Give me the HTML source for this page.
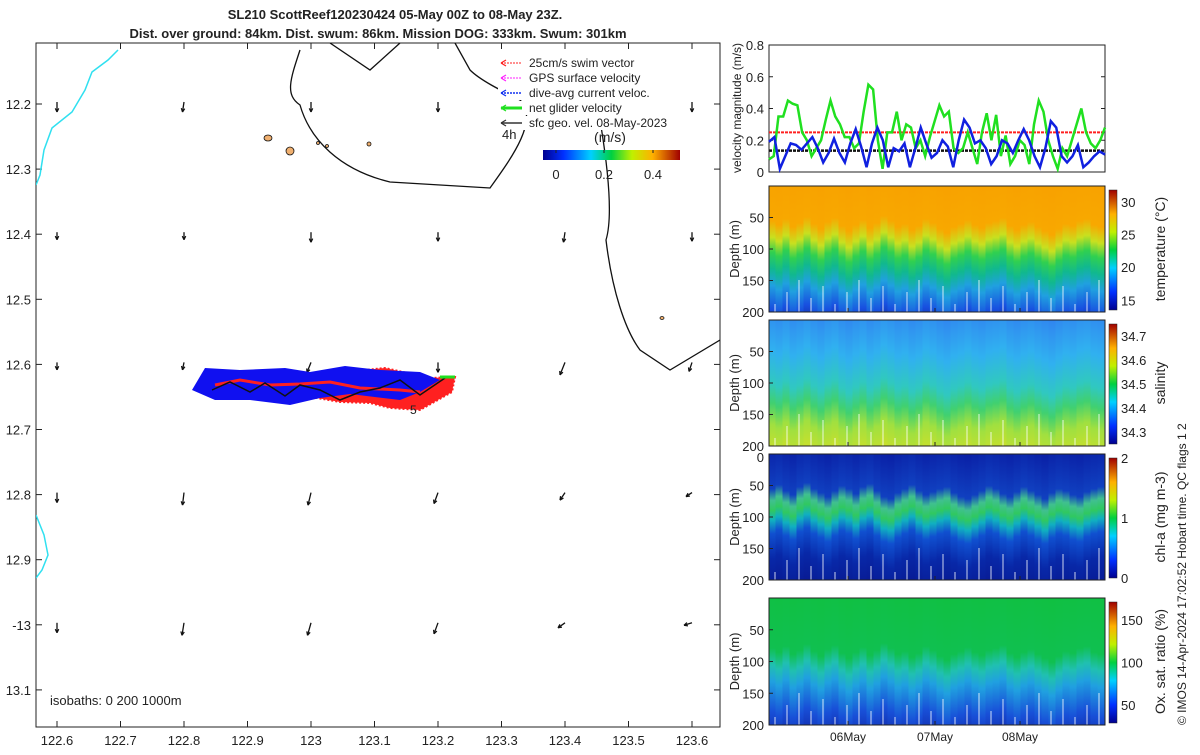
<!DOCTYPE html>
<html><head><meta charset="utf-8">
<style>
body{margin:0;background:#fff;}
svg text{font-family:"Liberation Sans",sans-serif;fill:#222;}
</style></head>
<body>
<svg id="fig" width="1200" height="750" viewBox="0 0 1200 750" xmlns="http://www.w3.org/2000/svg">
<defs>
<linearGradient id="jet" x1="0" y1="1" x2="0" y2="0">
<stop offset="0" stop-color="#00008f"/><stop offset="0.15" stop-color="#0030ff"/><stop offset="0.35" stop-color="#00d0ff"/><stop offset="0.5" stop-color="#00d040"/><stop offset="0.65" stop-color="#c0f000"/><stop offset="0.8" stop-color="#ffb000"/><stop offset="1" stop-color="#a00000"/></linearGradient>
<linearGradient id="jeth" x1="0" y1="0" x2="1" y2="0">
<stop offset="0" stop-color="#00008f"/><stop offset="0.15" stop-color="#0030ff"/><stop offset="0.35" stop-color="#00d0ff"/><stop offset="0.5" stop-color="#00d040"/><stop offset="0.65" stop-color="#c0f000"/><stop offset="0.8" stop-color="#ffb000"/><stop offset="1" stop-color="#a00000"/></linearGradient>
<linearGradient id="gT" x1="0" y1="0" x2="0" y2="1">
<stop offset="0" stop-color="#f8a000"/><stop offset="0.33" stop-color="#f8a800"/><stop offset="0.43" stop-color="#c8e020"/><stop offset="0.52" stop-color="#30d050"/><stop offset="0.62" stop-color="#10b890"/><stop offset="0.72" stop-color="#20a0e0"/><stop offset="0.86" stop-color="#1850e0"/><stop offset="1" stop-color="#102090"/></linearGradient>
<linearGradient id="gS" x1="0" y1="0" x2="0" y2="1">
<stop offset="0" stop-color="#3080f0"/><stop offset="0.3" stop-color="#30b0f0"/><stop offset="0.5" stop-color="#30c8c0"/><stop offset="0.62" stop-color="#40d070"/><stop offset="0.75" stop-color="#a0e040"/><stop offset="1" stop-color="#e0e020"/></linearGradient>
<linearGradient id="gC" x1="0" y1="0" x2="0" y2="1">
<stop offset="0" stop-color="#0818a0"/><stop offset="0.33" stop-color="#1040c0"/><stop offset="0.4" stop-color="#40c090"/><stop offset="0.46" stop-color="#30c860"/><stop offset="0.52" stop-color="#10b0c0"/><stop offset="0.6" stop-color="#1050d0"/><stop offset="0.75" stop-color="#0828a8"/><stop offset="1" stop-color="#08148a"/></linearGradient>
<linearGradient id="gO" x1="0" y1="0" x2="0" y2="1">
<stop offset="0" stop-color="#10c040"/><stop offset="0.42" stop-color="#10c050"/><stop offset="0.52" stop-color="#20c0b0"/><stop offset="0.62" stop-color="#20a0e0"/><stop offset="0.8" stop-color="#1850d8"/><stop offset="1" stop-color="#1020a0"/></linearGradient>
<clipPath id="cpT"><rect x="769" y="186" width="336" height="126"/></clipPath>
<clipPath id="cpS"><rect x="769" y="320" width="336" height="126"/></clipPath>
<clipPath id="cpC"><rect x="769" y="454" width="336" height="126"/></clipPath>
<clipPath id="cpO"><rect x="769" y="598" width="336" height="127"/></clipPath>
<clipPath id="cpMap"><rect x="36" y="43" width="684" height="684"/></clipPath>
</defs>

<text x="395" y="19" text-anchor="middle" font-size="13" font-weight="bold">SL210 ScottReef120230424 05-May 00Z to 08-May 23Z.</text>
<text x="378" y="38" text-anchor="middle" font-size="13" font-weight="bold">Dist. over ground: 84km. Dist. swum: 86km. Mission DOG: 333km. Swum: 301km</text>

<g id="map"></g>
<g id="vel"></g>
<g id="heat"></g>

<text transform="translate(1186,725) rotate(-90)" font-size="12">© IMOS 14-Apr-2024 17:02:52 Hobart time. QC flags 1  2</text>
</svg>
<script>
const NS="http://www.w3.org/2000/svg";
function mk(p,t,a){const e=document.createElementNS(NS,t);for(const k in a)e.setAttribute(k,a[k]);p.appendChild(e);return e;}

// ---------- MAP ----------
const lonTicks=[122.6,122.7,122.8,122.9,123,123.1,123.2,123.3,123.4,123.5,123.6];
const lonLabels=["122.6","122.7","122.8","122.9","123","123.1","123.2","123.3","123.4","123.5","123.6"];
const latTicks=[12.2,12.3,12.4,12.5,12.6,12.7,12.8,12.9,13,13.1];
const latLabels=["12.2","12.3","12.4","12.5","12.6","12.7","12.8","12.9","-13","13.1"];
const arrowLons=[122.6,122.8,123,123.2,123.4,123.6];
const arrowLats=[12.2,12.4,12.6,12.8,13.0];
const arrowU=[[0,-0.003,0,0,0,0],[0,0,0,0,-0.003,0],[0,-0.003,-0.008,0,-0.01,-0.006],[0,-0.003,-0.006,-0.008,-0.01,-0.012],[0,-0.004,-0.007,-0.008,-0.014,-0.016]];
const arrowV=[[-0.02,-0.02,-0.02,-0.02,-0.02,-0.02],[-0.015,-0.015,-0.02,-0.018,-0.02,-0.018],[-0.015,-0.015,-0.02,-0.02,-0.025,-0.018],[-0.02,-0.025,-0.025,-0.022,-0.015,-0.008],[-0.02,-0.025,-0.025,-0.022,-0.01,-0.005]];
const mx=lon=>57+(lon-122.6)*635;
const my=lat=>104+(lat-12.2)*651;
const map=document.getElementById('map');
mk(map,'rect',{x:36,y:43,width:684,height:684,fill:'#fff',stroke:'#222','stroke-width':1});
lonTicks.forEach((v,i)=>{const x=mx(v);
 mk(map,'line',{x1:x,y1:727,x2:x,y2:721,stroke:'#222'});mk(map,'line',{x1:x,y1:43,x2:x,y2:49,stroke:'#222'});
 const t=mk(map,'text',{x:x,y:745,'text-anchor':'middle','font-size':13});t.textContent=lonLabels[i];
 
 });
latTicks.forEach((v,i)=>{const y=my(v);
 mk(map,'line',{x1:36,y1:y,x2:42,y2:y,stroke:'#222'});mk(map,'line',{x1:720,y1:y,x2:714,y2:y,stroke:'#222'});
 const t=mk(map,'text',{x:31,y:y+5,'text-anchor':'end','font-size':13});t.textContent=latLabels[i];
 
 });
const mg=mk(map,'g',{'clip-path':'url(#cpMap)'});
mk(mg,'polyline',{points:'118,50 108,60 92,72 85,90 72,112 52,128 44,150 40,175 36,185',fill:'none',stroke:'#30e0f0','stroke-width':1.5});
mk(mg,'polyline',{points:'36,515 44,535 48,555 42,570 36,578',fill:'none',stroke:'#30e0f0','stroke-width':1.5});
mk(mg,'path',{d:'M300,50 C290,80 285,95 300,105 C310,140 340,170 390,182 L490,188 C510,160 540,120 520,100 C500,90 480,80 470,70 L455,43 M330,43 L370,70 L400,43',fill:'none',stroke:'#111','stroke-width':1.3});
mk(mg,'path',{d:'M600,120 C610,180 612,220 606,240 C612,290 625,330 640,350 L670,370 L720,340',fill:'none',stroke:'#111','stroke-width':1.3});
[[268,138,4,3],[290,151,4,4],[318,143,1.5,1.5],[327,146,1.5,1.5],[369,144,2,2],[662,318,2,1.5]].forEach(r=>mk(mg,'ellipse',{cx:r[0],cy:r[1],rx:r[2],ry:r[3],fill:'#f0b070',stroke:'#111','stroke-width':0.8}));
arrowLats.forEach((la,i)=>arrowLons.forEach((lo,j)=>{
 const x=mx(lo),y=my(la)-2,x2=x+arrowU[i][j]*500,y2=y-arrowV[i][j]*500;
 const l=mk(mg,'line',{x1:x,y1:y,x2:x2,y2:y2,stroke:'#111','stroke-width':1.3});
 
 
 const ang=Math.atan2(y2-y,x2-x);
 mk(mg,'path',{d:`M${x2},${y2} L${x2-4*Math.cos(ang-0.45)},${y2-4*Math.sin(ang-0.45)} M${x2},${y2} L${x2-4*Math.cos(ang+0.45)},${y2-4*Math.sin(ang+0.45)}`,stroke:'#111','stroke-width':1.2,fill:'none'});}));
const tr=mk(mg,'g',{});


mk(tr,'path',{d:'M200,385 L215,372 L245,378 L270,370 L300,378 L345,372 L385,368 L430,378 L455,377 L452,392 L420,410 L390,408 L370,403 L340,402 L300,395 L250,396 L220,392 Z',fill:'#ff2020',stroke:'#ff2020','stroke-width':2,'stroke-dasharray':'2,2'});
mk(tr,'path',{d:'M192,390 L205,368 L240,370 L285,368 L310,372 L345,366 L380,370 L420,372 L440,380 L420,392 L400,400 L350,394 L320,398 L290,405 L250,400 L215,400 Z',fill:'#1010f0'});
mk(tr,'path',{d:'M215,385 L240,380 L270,385 L300,384 L330,382 L360,388 L400,390 L420,392',fill:'none',stroke:'#ff2020','stroke-width':3});
mk(tr,'polyline',{points:'212,390 230,382 250,392 265,383 285,396 300,385 320,390 340,400 360,392 380,388 400,380 420,395 445,378',fill:'none',stroke:'#111','stroke-width':1.5});
mk(tr,'line',{x1:440,y1:377,x2:455,y2:377,stroke:'#20e020','stroke-width':3});
const t5=mk(map,'text',{x:410,y:414,'font-size':12});t5.textContent='5';
const iso=mk(map,'text',{x:50,y:705,'font-size':13});iso.textContent='isobaths: 0   200   1000m';


const legItems=[['25cm/s swim vector','#ff2020',1,'2,1'],['GPS surface velocity','#ff20ff',1,'2,1'],['dive-avg current veloc.','#1030f0',1.5,'2,1'],['net glider velocity','#20e020',3,''],['sfc geo. vel. 08-May-2023','#333',1.5,'']];
legItems.forEach((it,i)=>{const y=63+i*15;const g=mk(map,'g',{});
 
 
 mk(g,'rect',{x:498,y:y-7,width:186,height:14,fill:'#fff'});
 mk(g,'line',{x1:501,y1:y,x2:522,y2:y,stroke:it[1],'stroke-width':it[2],'stroke-dasharray':it[3]});
 mk(g,'path',{d:`M501,${y} l5,-3 M501,${y} l5,3`,stroke:it[1],'stroke-width':1.3,fill:'none'});
 const t=mk(g,'text',{x:529,y:y+4,'font-size':12});t.textContent=it[0];});
const t4=mk(map,'text',{x:502,y:139,'font-size':13});t4.textContent='4h';
const cu=mk(map,'text',{x:610,y:142,'text-anchor':'middle','font-size':14});cu.textContent='(m/s)';
mk(map,'rect',{x:543,y:150,width:137,height:10,fill:'url(#jeth)'});
[[556,'0'],[604,'0.2'],[653,'0.4']].forEach(a=>{mk(map,'line',{x1:a[0],y1:150,x2:a[0],y2:153,stroke:'#222'});const t=mk(map,'text',{x:a[0],y:179,'text-anchor':'middle','font-size':13});t.textContent=a[1];});

// ---------- VELOCITY ----------
const greenVel=[0.08,0.1,0.35,0.35,0.45,0.43,0.42,0.25,0.2,0.1,0.15,0.2,0.33,0.45,0.35,0.3,0.22,0.22,0.15,0.18,0.38,0.55,0.52,0.2,0.02,0.25,0.25,0.38,0.2,0.3,0.28,0.15,0.2,0.1,0.22,0.32,0.42,0.35,0.38,0.15,0.12,0.15,0.25,0.15,0.05,0.25,0.37,0.2,0.36,0.1,0.23,0.05,0.1,0.2,0.17,0.05,0.3,0.45,0.38,0.2,0.1,0.02,0.15,0.1,0.2,0.3,0.4,0.25,0.18,0.15,0.2,0.28];
const blueVel=[0.19,0.22,0.02,0.1,0.18,0.17,0.14,0.18,0.22,0.15,0.06,0.12,0.21,0.12,0.06,0.18,0.27,0.16,0.03,0.18,0.28,0.2,0.03,0.15,0.13,0.18,0.03,0.15,0.28,0.18,0.09,0.12,0.2,0.16,0.03,0.2,0.33,0.28,0.18,0.2,0.15,0.05,0.1,0.2,0.18,0.12,0.2,0.27,0.2,0.1,0.03,0.15,0.32,0.28,0.1,0.06,0.1,0.17,0.03,0.06,0.1,0.13,0.11];
const swimVel=[0.25];const geoVel=[0.135];
const velTicks=[0,0.2,0.4,0.6,0.8];const velTickLabels=["0","0.2","0.4","0.6","0.8"];
const VX0=769,VX1=1105,VY0=172,VY1=45;
const vy=v=>VY0+(VY1-VY0)*v/0.8;
const vel=document.getElementById('vel');
mk(vel,'rect',{x:VX0,y:VY1,width:VX1-VX0,height:VY0-VY1,fill:'#fff',stroke:'#222'});
velTicks.forEach((v,i)=>{const y=vy(v);mk(vel,'line',{x1:VX0,y1:y,x2:VX0+4,y2:y,stroke:'#222'});mk(vel,'line',{x1:VX1,y1:y,x2:VX1-4,y2:y,stroke:'#222'});
 const t=mk(vel,'text',{x:VX0-5,y:y+5,'text-anchor':'end','font-size':13});t.textContent=velTickLabels[i];});
const vt=mk(vel,'text',{transform:'translate(741,108) rotate(-90)','text-anchor':'middle','font-size':12});vt.textContent='velocity magnitude (m/s)';
function series(arr,col,w,name){const pts=arr.map((v,i)=>`${VX0+i*(VX1-VX0)/(arr.length-1)},${vy(v)}`).join(' ');
 const p=mk(vel,'polyline',{points:pts,fill:'none',stroke:col,'stroke-width':w});
 
 }
mk(vel,'line',{x1:VX0,x2:VX1,y1:vy(swimVel[0]),y2:vy(swimVel[0]),stroke:'#ff2020','stroke-width':2,'stroke-dasharray':'3,1'});
mk(vel,'line',{x1:VX0,x2:VX1,y1:vy(geoVel[0]),y2:vy(geoVel[0]),stroke:'#111','stroke-width':2.5,'stroke-dasharray':'3,1'});
series(greenVel,'#20e020',2.5,'net-glider-velocity-line');
series(blueVel,'#1020e0',2.5,'dive-avg-current-line');

// ---------- HEATMAPS ----------
const thermoOffsets=[0,4,-2,6,2,-4,3,8,1,-3,5,10,4,-1,7,2,-5,0,6,3,9,5,-2,2,8,12,6,3,-1,4,7,2,0,-3,5,9,4,1,6,10,14,8,3,5,0,-2,4,6];
const chlOffsets=[0,-4,2,6,-2,-6,0,4,8,2,-3,0,5,-2,-5,2,8,10,4,0,-4,2,6,3,0,-2,4,8,10,6,2,-3,0,5,8,3,-2,2,6,10,4,0,2,6,8,3,0,-2];
const depthTicks=[50,100,150,200];
const panels=[
 {y:186,h:126,grad:'gT',cp:'cpT',offs:thermoOffsets,label:'temperature (°C)',cb:['15','20','25','30'],cbv:[0.08,0.36,0.63,0.9],name:'temperature-panel',zero:false},
 {y:320,h:126,grad:'gS',cp:'cpS',offs:thermoOffsets,label:'salinity',cb:['34.3','34.4','34.5','34.6','34.7'],cbv:[0.1,0.3,0.5,0.7,0.9],name:'salinity-panel',zero:false},
 {y:454,h:126,grad:'gC',cp:'cpC',offs:chlOffsets,label:'chl-a (mg m-3)',cb:['0','1','2'],cbv:[0,0.5,1],name:'chlorophyll-panel',zero:true},
 {y:598,h:127,grad:'gO',cp:'cpO',offs:thermoOffsets,label:'Ox. sat. ratio (%)',cb:['50','100','150'],cbv:[0.15,0.5,0.85],name:'oxygen-panel',zero:false}];
const heat=document.getElementById('heat');
const dayTicks=[848,935,1020];const dayLabels=["06May","07May","08May"];
panels.forEach(P=>{const g=mk(heat,'g',{});
 
 
 const dy=d=>P.y+P.h*d/200;
 const cg=mk(g,'g',{'clip-path':`url(#${P.cp})`});
 const cw=336/P.offs.length;
 P.offs.forEach((o,i)=>{mk(cg,'rect',{x:769+i*cw-0.5,y:P.y-20+o,width:cw+1.5,height:P.h+40,fill:`url(#${P.grad})`});});
 for(let i=0;i<28;i++){const x=775+i*12;mk(cg,'line',{x1:x,y1:P.y+P.h,x2:x,y2:P.y+P.h-(8+((i*7)%5)*6),stroke:'#fff','stroke-width':1,opacity:0.8});}
 mk(g,'rect',{x:769,y:P.y,width:336,height:P.h,fill:'none',stroke:'#222'});
 depthTicks.forEach(d=>{const y=dy(d);if(d<200){mk(g,'line',{x1:769,y1:y,x2:773,y2:y,stroke:'#222'});}
  const t=mk(g,'text',{x:764,y:y+5,'text-anchor':'end','font-size':13});t.textContent=String(d);});
 if(P.zero){const t=mk(g,'text',{x:764,y:P.y+8,'text-anchor':'end','font-size':13});t.textContent='0';}
 dayTicks.forEach(x=>mk(g,'line',{x1:x,y1:P.y+P.h,x2:x,y2:P.y+P.h-4,stroke:'#222'}));
 const yl=mk(g,'text',{transform:`translate(739,${P.y+P.h/2}) rotate(-90)`,'text-anchor':'middle','font-size':13});yl.textContent='Depth (m)';
 mk(g,'rect',{x:1109,y:P.y+4,width:8,height:P.h-6,fill:'url(#jet)',stroke:'#222','stroke-width':0.5});
 P.cbv.forEach((v,i)=>{const y=P.y+P.h-2-(P.h-6)*v;const t=mk(g,'text',{x:1121,y:y+5,'font-size':13});t.textContent=P.cb[i];});
 const cl=mk(g,'text',{transform:`translate(1165,${P.y+P.h/2}) rotate(-90)`,'text-anchor':'middle','font-size':14});cl.textContent=P.label;});
dayTicks.forEach((x,i)=>{const t=mk(heat,'text',{x:x,y:741,'text-anchor':'middle','font-size':12});t.textContent=dayLabels[i];
 
 });
</script>
</body></html>
